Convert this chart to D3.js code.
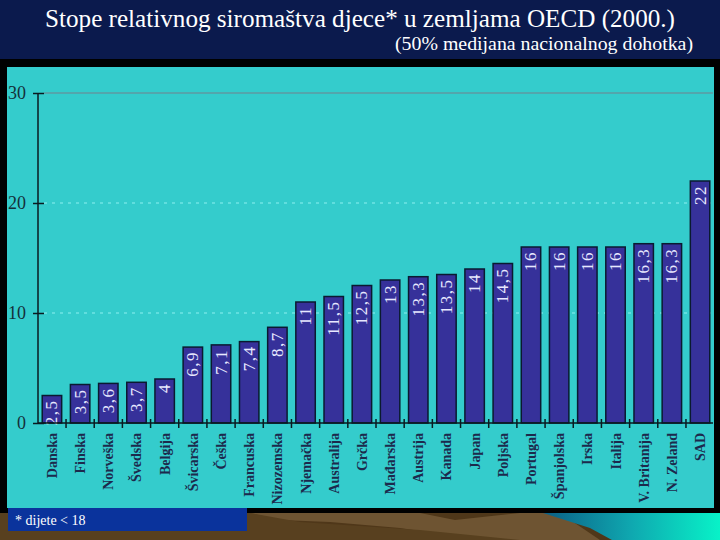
<!DOCTYPE html>
<html>
<head>
<meta charset="utf-8">
<script src="https://cdn.jsdelivr.net/npm/d3@7"></script>
<style>
  html, body { margin:0; padding:0; background:#000; }
  svg { display:block; }
  svg text { font-family: 'Liberation Serif', 'DejaVu Serif', serif; }
</style>
</head>
<body>
<div id="viz"></div>
<script>
// data
const countries = ['Danska','Finska','Norveška','Švedska','Belgija','Švicarska','Češka','Francuska',
  'Nizozemska','Njemačka','Australija','Grčka','Mađarska','Austrija','Kanada','Japan','Poljska',
  'Portugal','Španjolska','Irska','Italija','V. Britanija','N. Zeland','SAD'];
const rates = [2.5,3.5,3.6,3.7,4,6.9,7.1,7.4,8.7,11,11.5,12.5,13,13.3,13.5,14,14.5,16,16,16,16,16.3,16.3,22];
const yTicks = [0,10,20,30];
const titleText = 'Stope relativnog siromaštva djece* u zemljama OECD (2000.)';
const subtitleText = '(50% medijana nacionalnog dohotka)';
const footnoteText = '* dijete < 18';

const W = 720, H = 540;
const serif = "'Liberation Serif', 'DejaVu Serif', serif";

const svg = d3.select('#viz').append('svg')
  .attr('width', W).attr('height', H).attr('viewBox', `0 0 ${W} ${H}`);

// slide background
svg.append('rect').attr('width', W).attr('height', H).attr('fill', '#000');
svg.append('rect').attr('width', W).attr('height', 59).attr('fill', '#0b1a4d');

// bottom landscape strip
const defs = svg.append('defs');
const sea = defs.append('linearGradient').attr('id','sea').attr('x1','0').attr('x2','1').attr('y1','0').attr('y2','0');
sea.append('stop').attr('offset','0').attr('stop-color','#0b5e84');
sea.append('stop').attr('offset','0.5').attr('stop-color','#0fa8b0');
sea.append('stop').attr('offset','1').attr('stop-color','#08f2c8');
svg.append('rect').attr('x',0).attr('y',513).attr('width',W).attr('height',27).attr('fill','#4f3719');
svg.append('polygon').attr('points','250,513 420,513 455,520 520,513 560,513 600,540 480,540 400,528 330,522 280,520').attr('fill','#6e5432');
svg.append('polygon').attr('points','0,513 250,513 300,522 420,530 520,540 0,540').attr('fill','#58401f');
svg.append('polygon').attr('points','543,513 720,513 720,540 612,540 590,528').attr('fill','url(#sea)');

// cyan chart panel
svg.append('rect').attr('x',7).attr('y',67).attr('width',707).attr('height',441).attr('fill','#34cccc');

// titles
svg.append('text').attr('x',45).attr('y',27)
  .attr('textLength',630).attr('lengthAdjust','spacingAndGlyphs')
  .style('font-family',serif).attr('font-size',25).attr('fill','#fff')
  .text(titleText);
svg.append('text').attr('x',395).attr('y',50)
  .attr('textLength',298).attr('lengthAdjust','spacingAndGlyphs')
  .style('font-family',serif).attr('font-size',19).attr('fill','#fff')
  .text(subtitleText);

// scales
const x = d3.scaleBand().domain(countries).range([38, 714]).paddingInner(0.31).paddingOuter(0.15);
const y = d3.scaleLinear().domain([0, 30]).range([423, 93]);

// grid lines
const g = svg.append('g');
g.selectAll('line.grid').data(yTicks.filter(d => d > 0)).join('line')
  .attr('class','grid')
  .attr('x1', 44).attr('x2', 713)
  .attr('y1', d => y(d)).attr('y2', d => y(d))
  .attr('stroke', d => d === 30 ? '#5e9aa2' : '#6fe3e3')
  .attr('stroke-width', 1.5)
  .attr('stroke-dasharray', d => d === 30 ? null : '3,5');

// bars
g.selectAll('rect.bar').data(rates).join('rect')
  .attr('class','bar')
  .attr('x', (d,i) => x(countries[i]))
  .attr('y', d => y(d))
  .attr('width', x.bandwidth())
  .attr('height', d => y(0) - y(d))
  .attr('fill', '#36319a')
  .attr('stroke', '#0a1a30').attr('stroke-width', 1.5);

// value labels inside the bars
const fmt = v => String(v).replace('.', ',');
g.selectAll('text.val').data(rates).join('text')
  .attr('class','val')
  .attr('transform', (d,i) => `translate(${x(countries[i]) + x.bandwidth()/2 + 5.5},${y(d) + 4}) rotate(-90)`)
  .attr('text-anchor','end')
  .style('font-family', serif).attr('font-size', 17).attr('letter-spacing', 1.5)
  .attr('fill', '#e8e8ff')
  .text(fmt);

// y axis
const yAxis = svg.append('g').attr('transform','translate(38,0)')
  .call(d3.axisLeft(y).tickValues(yTicks).tickSize(5).tickPadding(7));
yAxis.select('.domain').attr('stroke','#0a1a20').attr('stroke-width',1.5).attr('d','M0,423V93');
yAxis.selectAll('.tick line').attr('x1',-5).attr('x2',6).attr('stroke','#0a1a20').attr('stroke-width',1.5);
yAxis.selectAll('.tick text').style('font-family',serif).attr('font-size',18).attr('fill','#14303a');

// x axis with country names
const xAxis = svg.append('g').attr('transform',`translate(0,${y(0)})`)
  .call(d3.axisBottom(x).tickSize(0).tickPadding(0));
xAxis.select('.domain').attr('stroke','#0a1a20').attr('stroke-width',1.5).attr('d','M38,0H713');
xAxis.selectAll('.tick text')
  .attr('transform','translate(5,10) rotate(-90)')
  .attr('text-anchor','end').attr('dy',0).attr('y',0)
  .style('font-family',serif).attr('font-size',14).attr('font-weight','bold')
  .attr('fill','#1c2a4c');

// small ticks between the bars
const gap = x.step() * x.paddingInner() / 2;
xAxis.selectAll('line.sep').data(countries.slice(1)).join('line')
  .attr('class','sep')
  .attr('x1', d => x(d) - gap).attr('x2', d => x(d) - gap)
  .attr('y1', -4).attr('y2', 5)
  .attr('stroke','#0a1a20').attr('stroke-width',1.5);

// footnote box
svg.append('rect').attr('x',8).attr('y',508).attr('width',239).attr('height',23).attr('fill','#0a339c');
svg.append('text').attr('x',15).attr('y',525)
  .style('font-family',serif).attr('font-size',14).attr('fill','#fff')
  .text(footnoteText);
</script>
</body>
</html>
